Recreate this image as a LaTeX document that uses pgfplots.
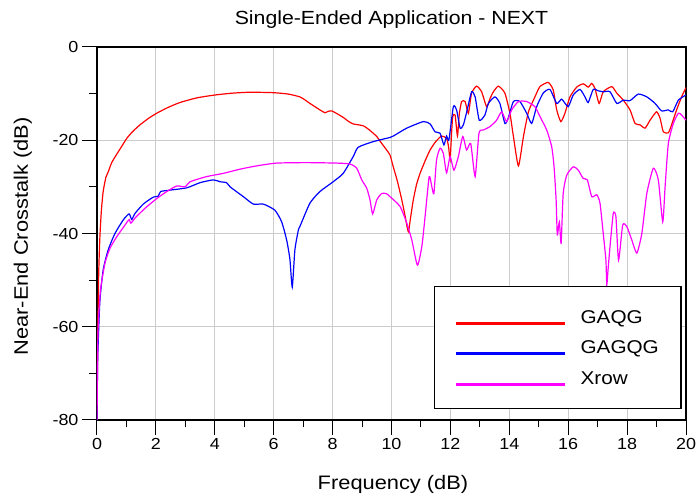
\documentclass[border=0pt]{standalone}
\usepackage{fontspec}
\setmainfont{Liberation Sans}[FakeStretch=1.12]
\usepackage{pgfplots}
\pgfplotsset{compat=1.18}
\definecolor{mag}{RGB}{255,0,255}
\definecolor{rd}{RGB}{255,0,0}
\definecolor{bl}{RGB}{0,0,255}
\begin{document}
\begin{tikzpicture}
\begin{axis}[
 scale only axis, width=589pt, height=373pt,
 xmin=0, xmax=20, ymin=-80, ymax=0,
 xtick={0,2,...,20}, minor xtick={1,3,...,19},
 ytick={-80,-60,...,0}, minor ytick={-70,-50,-30,-10},
 tick align=outside, xtick pos=bottom, ytick pos=left,
 major tick length=15pt, minor tick length=7.5pt,
 tick style={black, line width=1pt},
 grid=major, major grid style={gray!40, line width=1.2pt},
 axis line style={line width=1.2pt},
 /pgf/number format/assume math mode=true,
 ticklabel style={font=\fontsize{16}{16}\selectfont},
 title={Single-Ended Application - NEXT},
 title style={font=\fontsize{19}{19}\selectfont, at={(axis description cs:0.5,1)}, anchor=base, yshift=16pt},
 xlabel={Frequency (dB)},
 xlabel style={font=\fontsize{19.5}{19.5}\selectfont, at={(axis description cs:0.5,0)}, anchor=base, yshift=-70pt, xshift=1.5pt},
 ylabel={Near-End Crosstalk (dB)},
 ylabel style={font=\fontsize{19.5}{19.5}\selectfont, at={(axis description cs:0,0.5)}, anchor=base, yshift=69pt, xshift=-3pt},
 legend cell align=left,
 legend style={at={(rel axis cs:0.572,0.0295)}, anchor=south west, draw=black, line width=1.3pt, fill=white,
   inner xsep=20pt, inner ysep=22pt, row sep=13.5pt,
   font=\fontsize{18.5}{18.5}\selectfont,
   nodes={text height=13pt, text depth=0pt},
   /tikz/every odd column/.append style={column sep=12pt},
   /tikz/every even column/.append style={column sep=5pt}},
 legend image code/.code={\draw[#1, line width=3pt] (0pt,-6.5pt) -- (109pt,-6.5pt);},
 every axis plot/.append style={line width=1.2pt, smooth, tension=0.35},
]
\addplot[rd] coordinates {
(0,-78) (0.03,-60) (0.06,-48) (0.1,-40.5) (0.15,-35) (0.21,-31) (0.3,-28) (0.38,-26.8) (0.5,-24.8)
(0.67,-23) (0.85,-21.2) (1.01,-19.6) (1.2,-18.2) (1.46,-16.7) (1.75,-15.3) (2.03,-14.2) (2.4,-13)
(2.82,-11.9) (3.4,-10.9) (4.0,-10.3) (4.6,-9.9) (5.2,-9.7) (5.99,-9.8) (6.5,-10.1) (6.89,-10.7)
(7.05,-11.3) (7.23,-12.1) (7.4,-12.8) (7.57,-13.5) (7.74,-14.1) (7.85,-13.8) (7.97,-13.7) (8.15,-14.3)
(8.36,-15.1) (8.55,-16.0) (8.70,-16.5) (9.04,-16.9) (9.25,-17.8) (9.50,-19.2) (9.61,-20.2) (9.8,-21.8)
(9.95,-23.2) (10.06,-25.7) (10.2,-28.8) (10.35,-32.8) (10.47,-36.5) (10.57,-39.6) (10.65,-36.5)
(10.74,-32.8) (10.85,-29.5) (10.97,-27.1) (11.15,-24.3) (11.31,-22.1) (11.5,-20.3) (11.70,-19.1)
(11.87,-19.6) (11.94,-21.5) (11.99,-24.2) (12.04,-18.5) (12.08,-14.9) (12.16,-14.6) (12.24,-19.1)
(12.3,-14.5) (12.38,-11.7) (12.50,-11.7) (12.61,-14.2) (12.72,-9.9) (12.89,-8.4) (13.06,-9.6)
(13.23,-12.8) (13.35,-11) (13.46,-9.6) (13.63,-8.4) (13.85,-9.9) (14.02,-14.2) (14.14,-19.2)
(14.31,-25.5) (14.48,-19.2) (14.65,-13.9) (14.87,-10.7) (15.04,-8.5) (15.32,-7.6) (15.49,-9.2)
(15.61,-13.5) (15.75,-16.0) (15.89,-14.2) (16.06,-10.7) (16.29,-8.6) (16.51,-7.9) (16.68,-8.6)
(16.80,-7.8) (16.91,-8.9) (17.05,-12.1) (17.19,-9.6) (17.48,-8.5) (17.65,-9.9) (17.87,-11.4)
(18.10,-13.5) (18.27,-16.4) (18.44,-16.7) (18.61,-17.4) (18.78,-15.7) (19.0,-13.9) (19.12,-15.3)
(19.23,-18.2) (19.40,-18.4) (19.51,-16.7) (19.68,-13.5) (19.85,-10.7) (20,-8.7)
};
\addlegendentry{GAQG}
\addplot[bl] coordinates {
(0,-80) (0.02,-68) (0.04,-63.6) (0.1,-54.3) (0.21,-47.8) (0.38,-43.5) (0.61,-40.0) (0.89,-37.1)
(1.09,-35.8) (1.18,-37.0) (1.29,-35.7) (1.57,-33.7) (1.91,-32.2) (2.08,-32.0) (2.16,-31.0) (2.48,-30.7)
(3.05,-30.2) (3.50,-29.1) (3.95,-28.5) (4.18,-28.9) (4.40,-29.1) (4.52,-30.0) (4.97,-32.1) (5.31,-33.7)
(5.65,-33.7) (6.04,-35.0) (6.27,-37.5) (6.44,-41.4) (6.55,-45.5) (6.63,-51.5) (6.72,-43.5) (6.84,-39.2)
(6.89,-38.5) (7.23,-33.5) (7.57,-31.0) (8.02,-28.9) (8.36,-27.1) (8.70,-23.5) (8.87,-21.5) (9.38,-20.3)
(9.95,-19.4) (10.06,-19.1) (10.52,-17.4) (11.08,-16.0) (11.31,-16.5) (11.48,-18.2) (11.65,-18.5)
(11.78,-21.0) (11.87,-19.1) (11.95,-19.9) (12.10,-12.8) (12.21,-13.5) (12.33,-17.4) (12.44,-16.7)
(12.57,-13.5) (12.72,-9.6) (12.84,-10.7) (12.98,-15.7) (13.17,-14.6) (13.29,-12.1) (13.51,-10.7)
(13.68,-12.1) (13.85,-16.4) (13.96,-15.3) (14.14,-11.7) (14.36,-11.7) (14.59,-14.2) (14.76,-16.4)
(14.93,-12.8) (15.15,-9.9) (15.38,-9.1) (15.61,-12.1) (15.78,-11.2) (16.0,-12.8) (16.17,-10.3)
(16.40,-9.1) (16.57,-10.7) (16.68,-11.9) (16.85,-9.1) (17.02,-9.4) (17.19,-9.6) (17.42,-9.6)
(17.65,-12.1) (17.87,-11.4) (18.10,-11.5) (18.38,-10.1) (18.67,-10.7) (18.95,-12.1) (19.17,-13.7)
(19.40,-13.5) (19.55,-13.9) (19.74,-11.4) (20,-10.3)
};
\addlegendentry{GAGQG}
\addplot[mag] coordinates {
(0,-80) (0.02,-68) (0.04,-60) (0.12,-52.1) (0.27,-46.4) (0.44,-43.2) (0.67,-40.7) (0.95,-38.2)
(1.09,-37.0) (1.15,-37.8) (1.29,-36.7) (1.63,-34.6) (2.03,-32.5) (2.37,-31.0) (2.71,-29.8) (2.99,-30.0)
(3.16,-28.9) (3.72,-27.8) (4.29,-27.1) (4.86,-26.2) (5.42,-25.5) (6.10,-24.9) (7.12,-24.8) (8.14,-24.9)
(8.59,-25.1) (8.82,-26.0) (8.99,-28.5) (9.16,-30.3) (9.27,-32.8) (9.36,-35.8) (9.50,-32.8) (9.67,-31.4)
(9.84,-31.5) (9.95,-32.1) (10.29,-34.2) (10.52,-37.8) (10.69,-41.4) (10.88,-46.8) (11.03,-42.8)
(11.14,-36.4) (11.28,-27.8) (11.37,-30.0) (11.44,-31.4) (11.53,-24.2) (11.65,-21.7) (11.76,-22.8)
(11.87,-27.0) (11.99,-23.5) (12.12,-26.4) (12.27,-23.5) (12.42,-19.2) (12.55,-22.1) (12.69,-20.7)
(12.84,-27.8) (12.97,-18.5) (13.12,-17.8) (13.34,-17.1) (13.57,-15.7) (13.74,-13.9) (13.91,-16.0)
(14.08,-13.5) (14.31,-11.7) (14.59,-11.7) (14.87,-12.8) (15.04,-14.9) (15.27,-17.8) (15.44,-21.4)
(15.52,-25.7) (15.59,-32.8) (15.63,-40.3) (15.70,-37.5) (15.76,-42.1) (15.83,-31.4) (15.95,-27.5)
(16.17,-25.7) (16.34,-26.4) (16.51,-28.2) (16.65,-28.5) (16.80,-32.1) (16.97,-31.7) (17.08,-33.5)
(17.19,-40.0) (17.28,-45.7) (17.31,-51.0) (17.35,-48) (17.42,-42.8) (17.53,-35.7) (17.62,-36.4)
(17.71,-45.7) (17.85,-38.2) (17.99,-38.5) (18.16,-41.4) (18.33,-44.2) (18.50,-40.0) (18.67,-31.4)
(18.89,-26.0) (19.06,-28.5) (19.21,-37.5) (19.29,-30.0) (19.40,-20.7) (19.57,-16.4) (19.74,-14.2)
(19.85,-14.6) (20,-15.7)
};
\addlegendentry{Xrow}
\coordinate (ll) at (rel axis cs:0,0);
\coordinate (ur) at (rel axis cs:1,1);
\end{axis}
\pgfresetboundingbox
\path[use as bounding box] ([shift={(-97pt,-82pt)}]ll) rectangle ([shift={(10pt,47pt)}]ur);
\end{tikzpicture}
\end{document}
